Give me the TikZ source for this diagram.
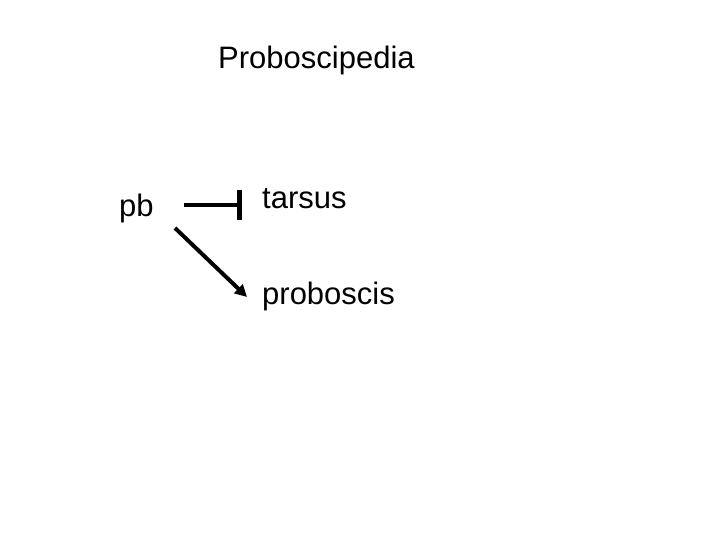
\documentclass[tikz,border=0pt]{standalone}
\usepackage{fontspec}
\setmainfont{Liberation Sans}
\usetikzlibrary{arrows.meta}
\begin{document}
\begin{tikzpicture}[x=1pt,y=-1pt,
  lbl/.style={font=\fontsize{31}{36}\selectfont, inner sep=0pt, anchor=base west},
  conn/.style={line width=4.5pt}]
\useasboundingbox[fill=white] (0,0) rectangle (720,540);
\node[lbl] (title) at (218,69) {Proboscipedia};
\node[lbl] (pb) at (119,216) {pb};
\node[lbl] (tarsus) at (262,209) {tarsus};
\node[lbl] (prob) at (262,304) {proboscis};
\coordinate (a1) at (184,205);
\coordinate (a2) at (242,205);
\coordinate (b1) at (175,228);
\coordinate (b2) at (247,297);
\draw[conn,-{Bar[width=30pt,line width=5pt]}] (a1) -- (a2);
\draw[conn,line width=4pt,-{Triangle[length=12pt,width=12pt]}] (b1) -- (b2);
\end{tikzpicture}
\end{document}
